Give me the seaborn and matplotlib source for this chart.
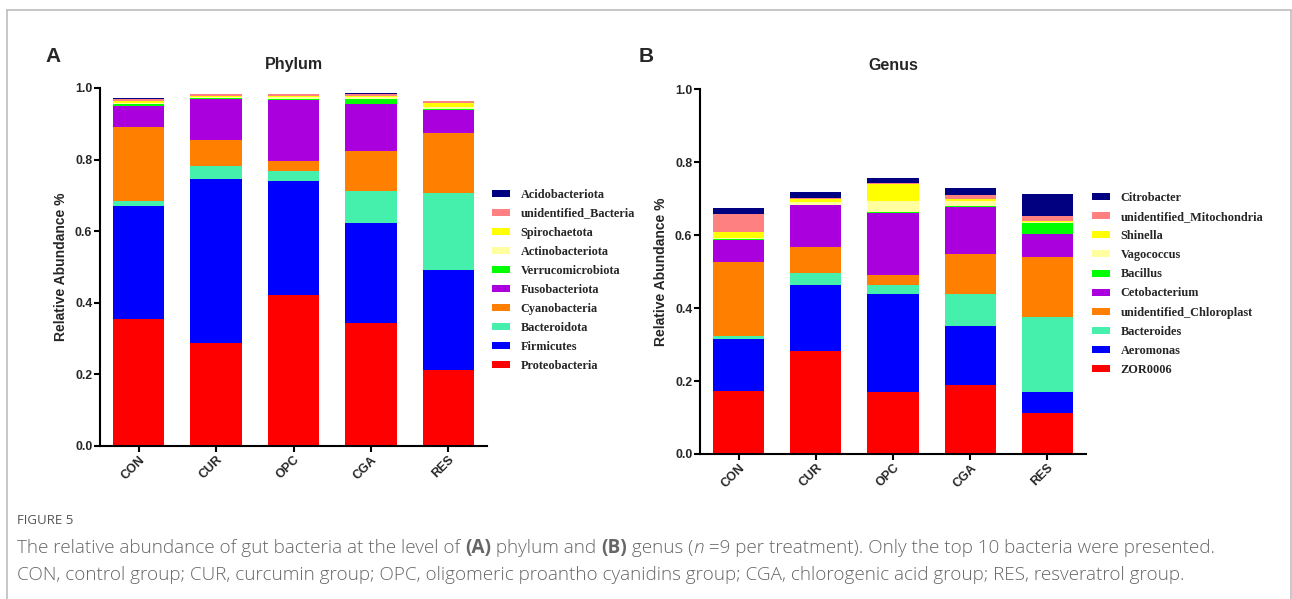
import matplotlib
matplotlib.use("Agg")
import matplotlib.pyplot as plt
from matplotlib.patches import Patch
from matplotlib.lines import Line2D
import seaborn as sns
import pandas as pd
import numpy as np

# ---------------- data ----------------
groups = ["CON", "CUR", "OPC", "CGA", "RES"]

# Phylum (bottom -> top)
phylum_names = ["Proteobacteria", "Firmicutes", "Bacteroidota", "Cyanobacteria",
                "Fusobacteriota", "Verrucomicrobiota", "Actinobacteriota",
                "Spirochaetota", "unidentified_Bacteria", "Acidobacteriota"]
proteobacteria = [0.354, 0.289, 0.421, 0.344, 0.212]
firmicutes = [0.315, 0.458, 0.320, 0.279, 0.280]
bacteroidota = [0.015, 0.036, 0.027, 0.090, 0.214]
cyanobacteria = [0.206, 0.073, 0.027, 0.110, 0.167]
fusobacteriota = [0.061, 0.114, 0.171, 0.133, 0.065]
verrucomicrobiota = [0.003, 0.001, 0.003, 0.014, 0.003]
actinobacteriota = [0.005, 0.003, 0.005, 0.004, 0.007]
spirochaetota = [0.005, 0.005, 0.004, 0.004, 0.009]
unidentified_bacteria = [0.005, 0.004, 0.005, 0.006, 0.006]
acidobacteriota = [0.003, 0.001, 0.001, 0.001, 0.001]
phylum_values = [proteobacteria, firmicutes, bacteroidota, cyanobacteria,
                 fusobacteriota, verrucomicrobiota, actinobacteriota,
                 spirochaetota, unidentified_bacteria, acidobacteriota]

# Genus (bottom -> top)
genus_names = ["ZOR0006", "Aeromonas", "Bacteroides", "unidentified_Chloroplast",
               "Cetobacterium", "Bacillus", "Vagococcus", "Shinella",
               "unidentified_Mitochondria", "Citrobacter"]
zor0006 = [0.173, 0.282, 0.171, 0.188, 0.112]
aeromonas = [0.142, 0.182, 0.268, 0.163, 0.057]
bacteroides = [0.009, 0.031, 0.024, 0.088, 0.207]
unidentified_chloroplast = [0.203, 0.073, 0.029, 0.109, 0.164]
cetobacterium = [0.060, 0.115, 0.170, 0.130, 0.062]
bacillus = [0.002, 0.001, 0.002, 0.002, 0.032]
vagococcus = [0.002, 0.006, 0.031, 0.015, 0.001]
shinella = [0.017, 0.008, 0.046, 0.005, 0.005]
unidentified_mitochondria = [0.051, 0.005, 0.003, 0.009, 0.013]
citrobacter = [0.016, 0.016, 0.013, 0.021, 0.060]
genus_values = [zor0006, aeromonas, bacteroides, unidentified_chloroplast,
                cetobacterium, bacillus, vagococcus, shinella,
                unidentified_mitochondria, citrobacter]

layer_colors = ["#FF0000", "#0000FF", "#44F0AC", "#FF8000", "#AA00DD",
                "#00FF00", "#FFFFA0", "#FFFF00", "#FF8080", "#000080"]

# ---------------- figure ----------------
sns.set_theme(style="white")
plt.rcParams["font.family"] = ["Liberation Sans", "DejaVu Sans"]

fig = plt.figure(figsize=(12.92, 5.99), dpi=100)
W, H = 1292, 599


def ax_rect(x0, x1, ybot, ytop):
    return [x0 / W, 1 - ybot / H, (x1 - x0) / W, (ybot - ytop) / H]


ax1 = fig.add_axes(ax_rect(100, 487, 446, 88))
ax2 = fig.add_axes(ax_rect(700, 1086, 454, 89.3))


def stacked(ax, names, values, title, legend_xy):
    df = pd.DataFrame({n: v for n, v in zip(names, values)}, index=groups)
    cum = df.cumsum(axis=1)
    for i in range(len(names) - 1, -1, -1):
        sns.barplot(x=groups, y=cum[names[i]].values, color=layer_colors[i],
                    width=0.665, ax=ax, saturation=1, linewidth=0)
    ax.set_xlim(-0.5, 4.5)
    ax.set_ylim(0, 1.0)
    ax.set_yticks([0.0, 0.2, 0.4, 0.6, 0.8, 1.0])
    ax.set_yticklabels(["0.0", "0.2", "0.4", "0.6", "0.8", "1.0"],
                       fontweight="bold", fontsize=8.8)
    sns.despine(ax=ax)
    for s in ["left", "bottom"]:
        ax.spines[s].set_linewidth(1.5)
        ax.spines[s].set_color("black")
    ax.tick_params(axis="both", which="both", direction="out", length=4,
                   width=1.5, color="black", pad=1.5,
                   left=True, bottom=True)
    ax.set_xticks(range(len(groups)))
    ax.set_xticklabels(groups, rotation=45, ha="right", rotation_mode="anchor",
                       fontweight="bold", fontsize=9)
    ax.set_ylabel("Relative Abundance %", fontsize=10, fontweight="bold",
                  labelpad=5)
    ax.set_xlabel("")
    ax.set_title(title, fontsize=11.5, fontweight="bold", pad=14)
    ax.grid(False)
    handles = [Patch(facecolor=layer_colors[i], edgecolor="none", label=names[i])
               for i in range(len(names) - 1, -1, -1)]
    fig.legend(handles=handles, loc="upper left",
               bbox_to_anchor=(legend_xy[0] / W, 1 - legend_xy[1] / H),
               frameon=False, borderpad=0, borderaxespad=0,
               handlelength=1.5, handleheight=0.5, handletextpad=0.85,
               labelspacing=0.58,
               prop={"family": ["Liberation Serif"], "weight": "bold",
                     "size": 8.8})


stacked(ax1, phylum_names, phylum_values, "Phylum", (492, 188.5))
stacked(ax2, genus_names, genus_values, "Genus", (1091.7, 192))

fig.text(53 / W, 1 - 57 / H, "A", fontsize=15, fontweight="bold",
         ha="center", va="center")
fig.text(646 / W, 1 - 57 / H, "B", fontsize=15, fontweight="bold",
         ha="center", va="center")

# frame
fcol = "#bdbdbd"
fig.add_artist(Line2D([7 / W, 7 / W], [0, 1 - 9.5 / H], transform=fig.transFigure,
                      color=fcol, lw=1.2))
fig.add_artist(Line2D([7 / W, 1291 / W], [1 - 9.5 / H, 1 - 9.5 / H],
                      transform=fig.transFigure, color=fcol, lw=1.2))
fig.add_artist(Line2D([1291 / W, 1291 / W], [0, 1 - 9.5 / H],
                      transform=fig.transFigure, color=fcol, lw=1.2))

# caption
cap_family = ["Open Sans", "DejaVu Sans"]
fig.text(17 / W, 1 - 521 / H, "FIGURE 5", fontsize=9.5, color="#555555",
         family=cap_family, va="center", ha="left")

renderer = fig.canvas.get_renderer()


def runs(x_px, y_px, parts, size):
    x = x_px
    for txt, weight, style in parts:
        t = fig.text(x / W, 1 - y_px / H, txt, fontsize=size, color="#666666",
                     family=cap_family, fontweight=weight, fontstyle=style,
                     va="center", ha="left")
        x += t.get_window_extent(renderer).width


cap_size = 13.55
runs(17, 548, [("The relative abundance of gut bacteria at the level of ", "light", "normal"),
               ("(A)", "bold", "normal"),
               (" phylum and ", "light", "normal"),
               ("(B)", "bold", "normal"),
               (" genus (", "light", "normal"),
               ("n", "light", "italic"),
               (" =9 per treatment). Only the top 10 bacteria were presented.", "light", "normal")],
     cap_size)
runs(17, 575, [("CON, control group; CUR, curcumin group; OPC, oligomeric proantho cyanidins group; "
                "CGA, chlorogenic acid group; RES, resveratrol group.", "light", "normal")],
     cap_size)

fig.savefig("out.png", dpi=100)
